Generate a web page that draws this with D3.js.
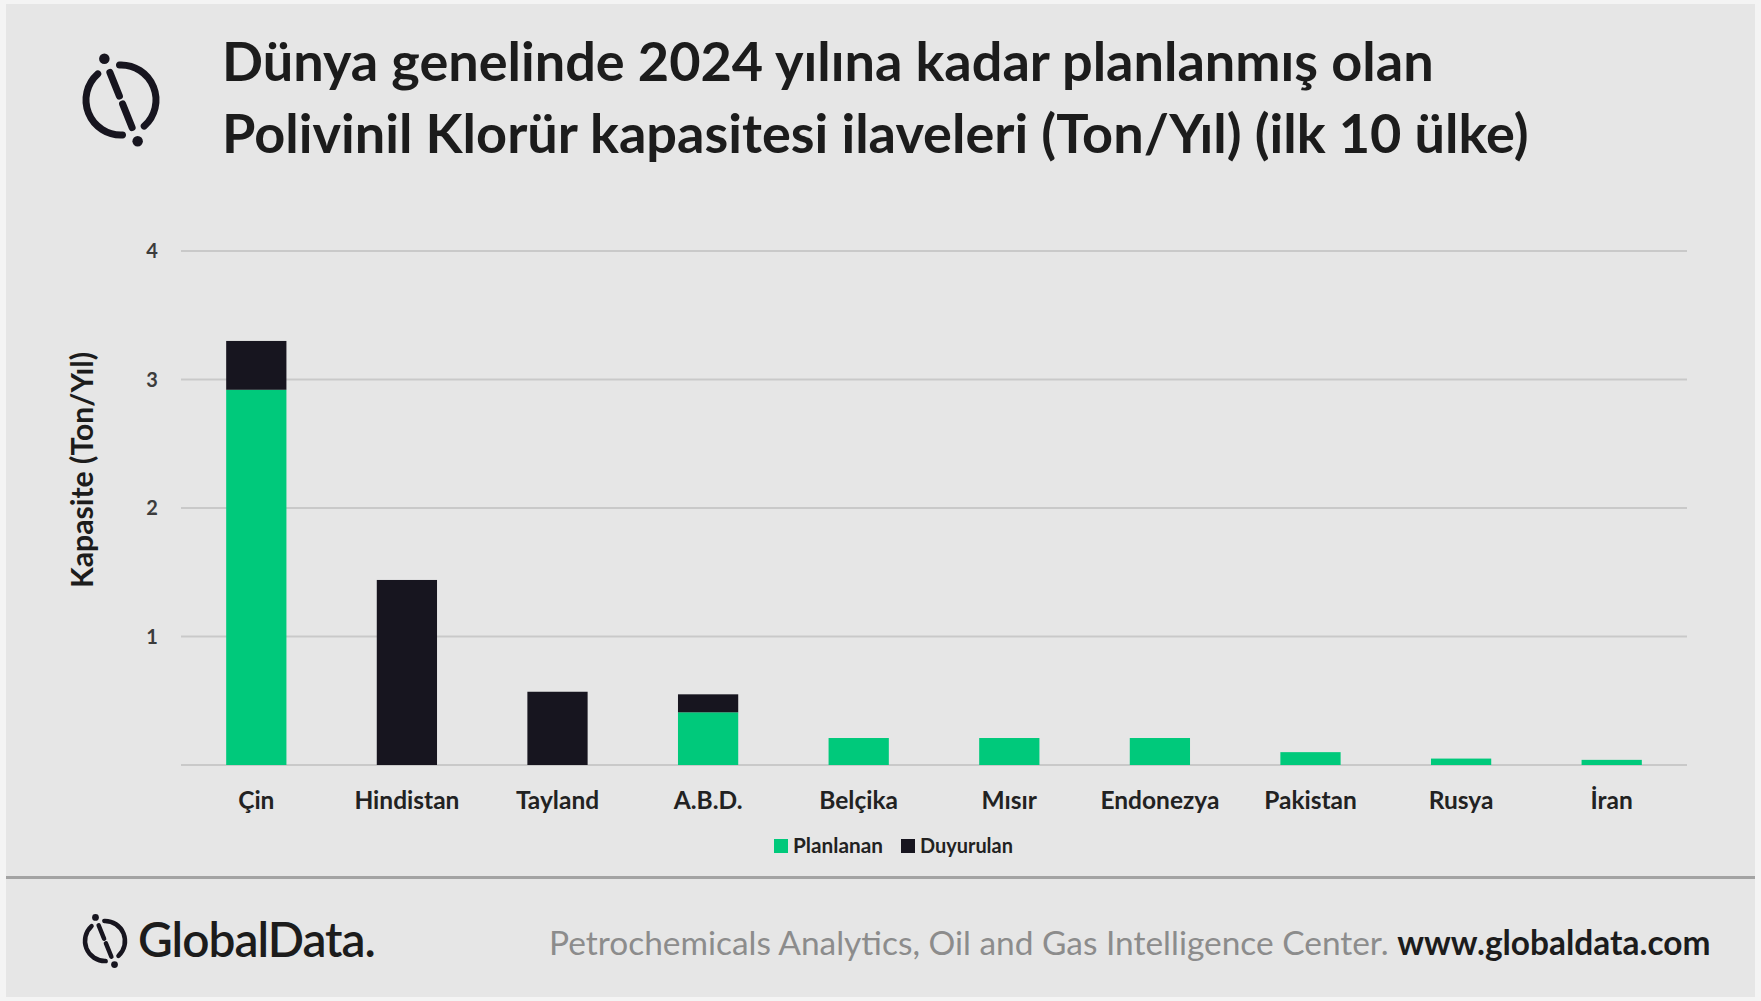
<!DOCTYPE html>
<html>
<head>
<meta charset="utf-8">
<script src="https://cdn.jsdelivr.net/npm/d3@7"></script>
<style>
  body { margin: 0; background: #f4f4f4; }
  svg { display: block; }
  text { font-family: Lato, "Open Sans", sans-serif; }
</style>
</head>
<body>
<svg id="chart" width="1761" height="1001"></svg>
<script>
// Countries and the two stacked series (million ton / year)
var countries = ["Çin", "Hindistan", "Tayland", "A.B.D.", "Belçika", "Mısır", "Endonezya", "Pakistan", "Rusya", "İran"];
var planlanan = [2.92, 0, 0, 0.41, 0.21, 0.21, 0.21, 0.10, 0.05, 0.04];
var duyurulan = [0.38, 1.44, 0.57, 0.14, 0, 0, 0, 0, 0, 0];
var seriesNames = ["Planlanan", "Duyurulan"];
var yTicks = [1, 2, 3, 4];

var titleLines = [
    "Dünya genelinde 2024 yılına kadar planlanmış olan",
    "Polivinil Klorür kapasitesi ilaveleri (Ton/Yıl) (ilk 10 ülke)"
];

const W = 1761, H = 1001;
const green = "#00c97b", dark = "#17151f";

var svg = d3.select("#chart");

// Background panels
svg.append("rect")
    .attr("x", 6).attr("y", 4)
    .attr("width", W - 12).attr("height", H - 8)
    .attr("fill", "#e6e6e6");

svg.append("rect")
    .attr("x", 6).attr("y", 876)
    .attr("width", W - 12).attr("height", 3)
    .attr("fill", "#a3a3a3");

// Shrinks or grows a text node's font so it spans a given width
var fitText = function(sel, target) {
    var fs = parseFloat(sel.attr("font-size"));
    var len = sel.node().getComputedTextLength();
    sel.attr("font-size", fs * target / len);
};

// GlobalData ring logo
var drawLogo = function(g, cx, cy, r, sw) {
    const tilt = 22 * Math.PI / 180;
    const gap = 0.24;
    var arc = d3.arc().innerRadius(r - sw / 2).outerRadius(r + sw / 2).cornerRadius(sw / 2);
    var top = -tilt, bottom = Math.PI - tilt;
    g.append("path")
        .attr("transform", `translate(${cx},${cy})`)
        .attr("d", arc({startAngle: top + gap, endAngle: bottom - gap}))
        .attr("fill", dark);
    g.append("path")
        .attr("transform", `translate(${cx},${cy})`)
        .attr("d", arc({startAngle: bottom + gap, endAngle: top + 2 * Math.PI - gap}))
        .attr("fill", dark);
    var ux = Math.sin(top), uy = -Math.cos(top);
    // two slash pieces through the centre
    [[r * 0.85, r * 0.12], [-r * 0.12, -r * 0.85]].forEach(function(p) {
        g.append("line")
            .attr("x1", cx + ux * p[0]).attr("y1", cy + uy * p[0])
            .attr("x2", cx + ux * p[1]).attr("y2", cy + uy * p[1])
            .attr("stroke", dark)
            .attr("stroke-width", sw)
            .attr("stroke-linecap", "round");
    });
    [r * 1.27, -r * 1.27].forEach(function(d) {
        g.append("circle")
            .attr("cx", cx + ux * d).attr("cy", cy + uy * d)
            .attr("r", sw * 0.75)
            .attr("fill", dark);
    });
};

drawLogo(svg.append("g"), 121, 100, 35, 7);

// Title
titleLines.forEach(function(t, i) {
    var txt = svg.append("text")
        .attr("x", 222)
        .attr("y", [81, 153][i])
        .attr("font-size", 50)
        .attr("font-weight", 700)
        .attr("fill", "#1c1c1c")
        .text(t);
    fitText(txt, [1212, 1307][i]);
});

// Scales
const plot = {left: 181, right: 1687, top: 251, bottom: 765};

var x = d3.scaleBand()
    .domain(countries)
    .range([plot.left, plot.right])
    .paddingInner(0.6)
    .paddingOuter(0.3);

var y = d3.scaleLinear()
    .domain([0, 4])
    .range([plot.bottom, plot.top]);

// Gridlines
svg.append("g")
    .selectAll("line")
    .data([0].concat(yTicks))
    .join("line")
    .attr("x1", plot.left).attr("x2", plot.right)
    .attr("y1", d => y(d)).attr("y2", d => y(d))
    .attr("stroke", "#c9c9c9")
    .attr("stroke-width", 2);

// Y tick labels
svg.append("g")
    .selectAll("text")
    .data(yTicks)
    .join("text")
    .attr("x", 152)
    .attr("y", d => y(d) + 7)
    .attr("text-anchor", "middle")
    .attr("font-size", 20)
    .attr("font-weight", 700)
    .attr("fill", "#3c3c3c")
    .text(d => d);

// Y axis title
var yTitle = svg.append("text")
    .attr("transform", "translate(93,470) rotate(-90)")
    .attr("text-anchor", "middle")
    .attr("font-size", 25)
    .attr("font-weight", 700)
    .attr("fill", "#1c1c1c")
    .text("Kapasite (Ton/Yıl)");
fitText(yTitle, 236);

// Stacked bars
var rows = countries.map(function(c, i) {
    return {country: c, Planlanan: planlanan[i], Duyurulan: duyurulan[i]};
});
var stacked = d3.stack().keys(seriesNames)(rows);
var color = d3.scaleOrdinal().domain(seriesNames).range([green, dark]);

svg.append("g")
    .selectAll("g")
    .data(stacked)
    .join("g")
    .attr("fill", d => color(d.key))
    .selectAll("rect")
    .data(d => d.filter(p => p[1] > p[0]))
    .join("rect")
    .attr("x", d => x(d.data.country))
    .attr("width", x.bandwidth())
    .attr("y", d => y(d[1]))
    .attr("height", d => y(d[0]) - y(d[1]));

// X labels
svg.append("g")
    .selectAll("text")
    .data(countries)
    .join("text")
    .attr("x", d => x(d) + x.bandwidth() / 2)
    .attr("y", 809)
    .attr("text-anchor", "middle")
    .attr("font-size", 24.5)
    .attr("font-weight", 700)
    .attr("fill", "#222")
    .text(d => d);

// Legend
var legend = svg.append("g");
var legendX = [774, 901];
var legendW = [90, 93];
seriesNames.forEach(function(s, i) {
    legend.append("rect")
        .attr("x", legendX[i]).attr("y", 839)
        .attr("width", 14).attr("height", 14)
        .attr("fill", color(s));
    var lt = legend.append("text")
        .attr("x", legendX[i] + 19).attr("y", 853)
        .attr("font-size", 20)
        .attr("font-weight", 700)
        .attr("fill", "#222")
        .text(s);
    fitText(lt, legendW[i]);
});

// Footer
drawLogo(svg.append("g"), 105, 941, 20, 4.5);

var brand = svg.append("text")
    .attr("x", 138).attr("y", 957)
    .attr("font-size", 44)
    .attr("font-weight", 600)
    .attr("fill", "#1c1c1c")
    .attr("font-family", "Inter, Lato, sans-serif")
    .attr("letter-spacing", -1)
    .text("GlobalData.");
fitText(brand, 236);

var source = svg.append("text")
    .attr("x", 549).attr("y", 955)
    .attr("font-size", 30);
source.append("tspan")
    .attr("fill", "#8c8c8c")
    .text("Petrochemicals Analytics, Oil and Gas Intelligence Center. ");
source.append("tspan")
    .attr("fill", "#1c1c1c")
    .attr("font-weight", 700)
    .text("www.globaldata.com");
fitText(source, 1162);
</script>
</body>
</html>
